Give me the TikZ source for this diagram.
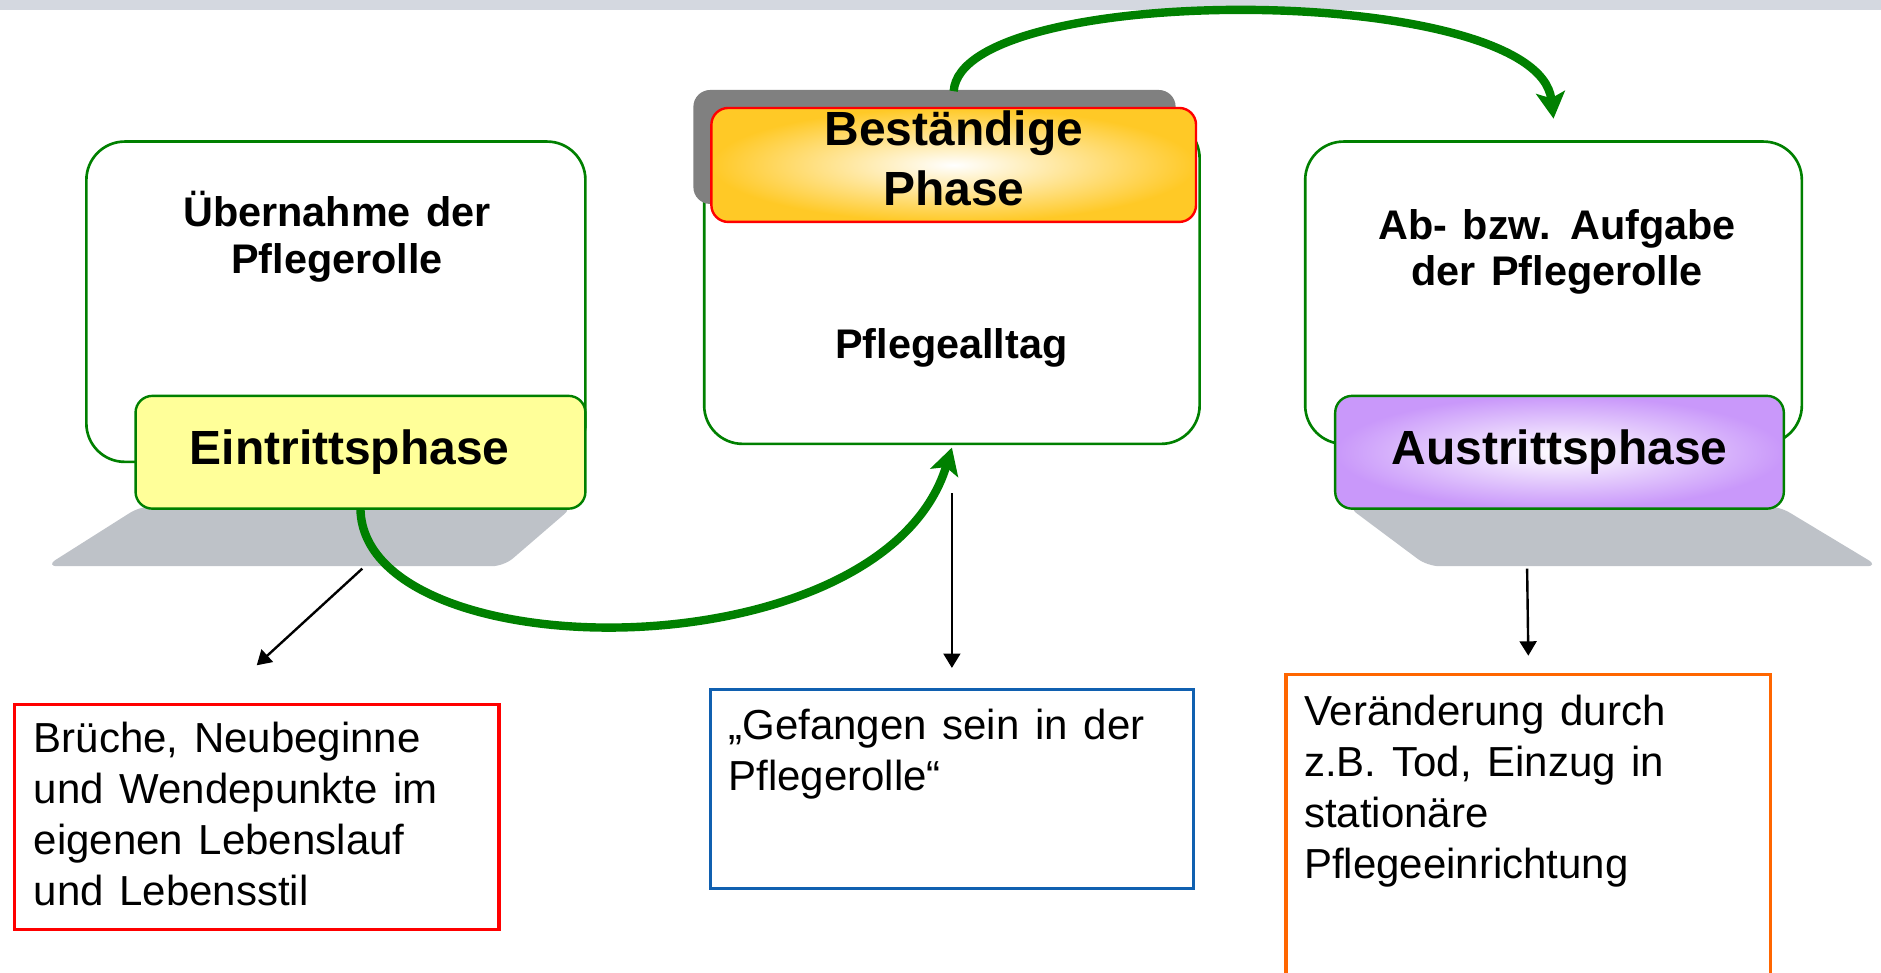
\documentclass[tikz,border=0pt]{standalone}
\usepackage{fontspec}
\setmainfont{Liberation Sans}[WordSpace=1.35]
\usetikzlibrary{arrows.meta}
\definecolor{boxgreen}{HTML}{008000}
\definecolor{topbar}{HTML}{D4D8E0}
\definecolor{shadowgrey}{HTML}{BEC2C8}
\definecolor{tabgrey}{HTML}{808080}
\definecolor{phaseyellow}{HTML}{FFFF99}
\definecolor{phaseorange}{HTML}{FFC926}
\definecolor{phasepurple}{HTML}{C998FA}
\definecolor{notered}{HTML}{FF0000}
\definecolor{noteblue}{HTML}{1060B0}
\definecolor{noteorange}{HTML}{FF6600}
\begin{document}
\begin{tikzpicture}[x=1pt,y=-1pt,
    bigbox/.style={draw=boxgreen,line width=2.2pt,rounded corners=32pt,fill=white,inner sep=0pt},
    phasebox/.style={draw=boxgreen,line width=2pt,rounded corners=14pt,inner sep=0pt,
      minimum width=375pt,minimum height=94pt,font=\fontsize{40}{50}\selectfont\bfseries},
    headtxt/.style={align=center,inner sep=0pt,font=\fontsize{34.5}{39}\selectfont\bfseries},
    notebox/.style={line width=2.8pt,inner sep=0pt,minimum width=404pt},
    notetxt/.style={anchor=north west,align=left,inner sep=0pt,font=\fontsize{35}{42.5}\selectfont},
    greenarrow/.style={draw=boxgreen,line width=7pt,-{Stealth[length=22pt,width=24pt,inset=5pt]}},
    thinarrow/.style={line width=2pt,-{Triangle[length=12pt,width=14pt]}}]
  \useasboundingbox (0,0) rectangle (1568,811);
  \fill[topbar] (0,0) rectangle (1568,8);

  % three stages
  \node[bigbox,minimum width=416pt,minimum height=267pt] (uebernahme) at (280,251.5) {};
  \node[bigbox,minimum width=413pt,minimum height=270pt] (alltag) at (793.5,235) {};
  \node[bigbox,minimum width=414pt,minimum height=252pt] (aufgabe) at (1295,244) {};
  \node[fill=tabgrey,rounded corners=14pt,minimum width=402pt,minimum height=95pt] (tab) at (779,122.5) {};

  % shadows below the phase boxes
  \fill[shadowgrey,rounded corners=10pt] (117,422) -- (478,422) -- (420,472) -- (38,472) -- cycle;
  \fill[shadowgrey,rounded corners=10pt] (1123,422) -- (1483,422) -- (1566,472) -- (1190,472) -- cycle;
  \coordinate (shadowLfoot) at (302,474);
  \coordinate (shadowRfoot) at (1273,474);

  \node[phasebox,fill=phaseyellow] (eintritt) at (300.5,377) {\hspace*{-18pt}Eintrittsphase};
  \node[phasebox,minimum width=374pt,inner color=white,outer color=phasepurple] (austritt) at (1300,377) {Austrittsphase};
  \node[phasebox,draw=notered,minimum width=404pt,minimum height=95pt,inner color=white,outer color=phaseorange] (bestaendig) at (795,137.5) {};
  \node[align=center,inner sep=0pt,font=\fontsize{40}{50}\selectfont\bfseries] (bestaendigtxt) at (795,132) {Beständige\\Phase};

  \node[headtxt] (uebernahmetxt) at (281,197.5) {Übernahme der\\Pflegerolle};
  \node[headtxt] (alltagtxt) at (793,290) {Pflegealltag};
  \node[headtxt] (aufgabetxt) at (1298,210) {Ab- bzw. Aufgabe\\der Pflegerolle};

  % notes
  \node[notebox,draw=notered,minimum height=188pt] (bruchbox) at (214,681) {};
  \node[notebox,draw=noteblue,line width=2.4pt,minimum width=403pt,minimum height=166pt] (gefangenbox) at (793.5,658) {};
  \node[notebox,draw=noteorange,minimum height=278pt] (veraenderbox) at (1274,701) {};
  \node[notetxt] (bruchtxt) at (28,602) {Brüche, Neubeginne\\und Wendepunkte im\\eigenen Lebenslauf\\und Lebensstil};
  \node[notetxt] (gefangentxt) at (607,591) {„Gefangen sein in der\\Pflegerolle“};
  \node[notetxt] (veraendertxt) at (1087,579) {Veränderung durch\\z.B. Tod, Einzug in\\stationäre\\Pflegeeinrichtung};

  % arrows
  \draw[greenarrow] (eintritt.south) .. controls +(4,135) and +(-58,190) .. ([yshift=-2pt]alltag.south);
  \draw[greenarrow] ([yshift=13pt]bestaendig.north) .. controls +(6,-92) and +(-13,-114) .. ([yshift=18pt]aufgabe.north);
  \draw[thinarrow] (shadowLfoot) -- ([yshift=31pt]bruchbox.north);
  \draw[thinarrow] ([yshift=-40pt]alltag.south) -- ([yshift=17pt]gefangenbox.north);
  \draw[thinarrow] (shadowRfoot) -- ([yshift=14pt]veraenderbox.north);
\end{tikzpicture}
\end{document}
